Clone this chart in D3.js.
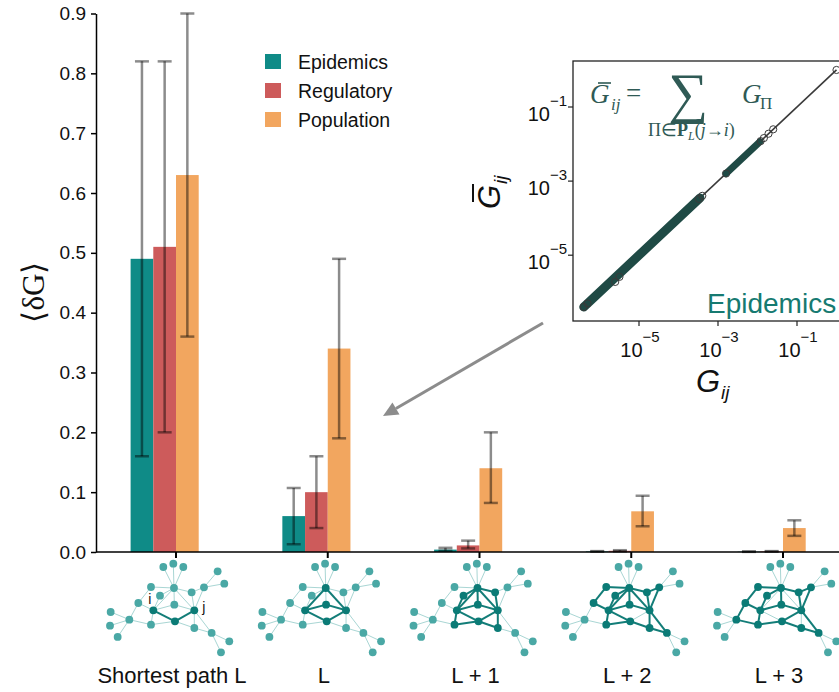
<!DOCTYPE html>
<html>
<head>
<meta charset="utf-8">
<script src="https://cdn.jsdelivr.net/npm/d3@7"></script>
<style>
  body { margin: 0; background: #fff; }
</style>
</head>
<body>
<div id="chart"></div>
<script>
// ---- data ----
const categories = ["Shortest path L", "L", "L + 1", "L + 2", "L + 3"];
const seriesNames = ["Epidemics", "Regulatory", "Population"];
const seriesColors = ["#0f8b87", "#cd5b5b", "#f2a65f"];

const epidemics  = [0.49, 0.06, 0.004, 0.001, 0.0005];
const epiLow     = [0.16, 0.013, 0.002, 0.0005, 0.0002];
const epiHigh    = [0.82, 0.107, 0.007, 0.0015, 0.001];
const regulatory = [0.51, 0.10, 0.011, 0.002, 0.001];
const regLow     = [0.20, 0.04, 0.006, 0.001, 0.0005];
const regHigh    = [0.82, 0.16, 0.019, 0.003, 0.0015];
const population = [0.63, 0.34, 0.14, 0.068, 0.040];
const popLow     = [0.36, 0.19, 0.082, 0.043, 0.027];
const popHigh    = [0.90, 0.49, 0.20, 0.094, 0.053];

const yTicks = [0, 0.1, 0.2, 0.3, 0.4, 0.5, 0.6, 0.7, 0.8, 0.9];

// inset scatter (G_ij vs summed path contributions)
const insetTicks = [1e-5, 1e-3, 1e-1];
const denseRuns = [[4e-7, 3.5e-4], [1.6e-3, 1.15e-2]];
const pointsG    = [4e-7, 5e-7, 2.5e-6, 3.2e-6, 3.3e-4, 4.0e-4, 1.6e-3, 1.2e-2, 1.45e-2, 1.9e-2, 2.5e-2, 1.0];
const pointsGbar = [4e-7, 5e-7, 1.9e-6, 2.6e-6, 3.3e-4, 4.0e-4, 1.6e-3, 1.2e-2, 1.45e-2, 1.9e-2, 2.5e-2, 1.0];

// small network sketches (layout units), same graph in every panel
const netNodes = [[160,12],[190,2],[220,12],[192,75],[123,72],[150,98],[245,88],[282,73],
  [323,25],[343,62],[130,142],[253,142],[193,125],[195,175],[85,120],[58,170],[2,147],
  [0,188],[23,222],[123,185],[253,195],[305,210],[358,235],[333,268]];
const netLinks = [[0,3],[1,3],[2,3],[7,8],[7,9],[15,16],[15,17],[15,18],[21,22],[21,23],
  [3,4],[3,6],[3,10],[3,11],[3,12],[4,14],[3,5],[5,10],[6,11],[6,7],[7,11],[10,12],
  [12,11],[10,13],[13,11],[10,14],[14,15],[15,19],[10,19],[19,13],[11,20],[20,13],
  [20,21],[11,21]];
const sourceNode = 10, targetNode = 11;
const shortestPath = [10, 13, 11];
const pathLengths = [2, 2, 3, 4, 5];

const width = 839, height = 692;
const sans = "'Liberation Sans', Arial, sans-serif";
const serif = "'Liberation Serif', 'Times New Roman', serif";

const svg = d3.select("#chart").append("svg")
    .attr("width", width).attr("height", height)
    .attr("font-family", sans);

// ---- scales ----
const xc = d3.scaleLinear().domain([0, 4]).range([176, 783]);
const barW = 22.7;
const xs = d3.scaleBand().domain(seriesNames).range([-2 * barW, barW]);
const y = d3.scaleLinear().domain([0, 0.9]).range([552, 13.5]);

// ---- bars ----
const values = [epidemics, regulatory, population];
const lows = [epiLow, regLow, popLow];
const highs = [epiHigh, regHigh, popHigh];

const barData = [];
seriesNames.forEach((s, si) => {
    categories.forEach((c, ci) => {
        barData.push({ s: s, si: si, ci: ci, v: values[si][ci], lo: lows[si][ci], hi: highs[si][ci] });
    });
});

svg.append("g").selectAll("rect")
    .data(barData)
    .enter().append("rect")
    .attr("x", d => xc(d.ci) + xs(d.s))
    .attr("y", d => y(d.v))
    .attr("width", xs.bandwidth())
    .attr("height", d => y(0) - y(d.v))
    .attr("fill", d => seriesColors[d.si]);

// error bars
const err = svg.append("g")
    .attr("stroke", "#000").attr("stroke-opacity", 0.45).attr("stroke-width", 2.5);
barData.forEach(d => {
    const cx = xc(d.ci) + xs(d.s) + xs.bandwidth() / 2;
    err.append("line").attr("x1", cx).attr("x2", cx).attr("y1", y(d.lo)).attr("y2", y(d.hi));
    err.append("line").attr("x1", cx - 7).attr("x2", cx + 7).attr("y1", y(d.lo)).attr("y2", y(d.lo));
    err.append("line").attr("x1", cx - 7).attr("x2", cx + 7).attr("y1", y(d.hi)).attr("y2", y(d.hi));
});

// ---- axes ----
const yAxis = svg.append("g")
    .attr("transform", "translate(96,0)")
    .call(d3.axisLeft(y).tickValues(yTicks).tickFormat(d3.format(".1f")).tickSize(5).tickSizeOuter(0));
yAxis.select(".domain").attr("stroke-width", 1.5);
yAxis.selectAll(".tick line").attr("stroke-width", 1.5);
yAxis.selectAll("text").attr("font-size", 19).attr("fill", "#111")
    .attr("font-family", sans).attr("dx", "-2");

svg.append("line").attr("x1", 96).attr("x2", width).attr("y1", y(0)).attr("y2", y(0))
    .attr("stroke", "#000").attr("stroke-width", 1.5);
svg.append("g").selectAll("line").data(categories).enter().append("line")
    .attr("x1", (d, i) => xc(i)).attr("x2", (d, i) => xc(i))
    .attr("y1", y(0)).attr("y2", y(0) + 6)
    .attr("stroke", "#000").attr("stroke-width", 2);

// y label <δG>
svg.append("text")
    .attr("transform", "translate(44,292) rotate(-90)")
    .attr("text-anchor", "middle")
    .attr("font-family", serif)
    .attr("font-size", 31)
    .attr("fill", "#111")
    .text("\u27E8\u03B4G\u27E9");

// ---- legend ----
const legend = svg.append("g").attr("transform", "translate(265,54)");
seriesNames.forEach((s, i) => {
    legend.append("rect").attr("x", 0).attr("y", i * 29).attr("width", 16).attr("height", 15)
        .attr("fill", seriesColors[i]);
    legend.append("text").attr("x", 33).attr("y", i * 29 + 14.5)
        .attr("font-size", 19.5).attr("fill", "#111").text(s);
});

// ---- category labels ----
svg.append("g").selectAll("text").data(categories).enter().append("text")
    .attr("x", (d, i) => xc(i) - 4).attr("y", 683)
    .attr("text-anchor", "middle").attr("font-size", 22).attr("fill", "#111")
    .text(d => d);

// ---- network sketches ----
const adj = netNodes.map(() => []);
netLinks.forEach(([a, b]) => { adj[a].push(b); adj[b].push(a); });
const key = (a, b) => a < b ? a + "-" + b : b + "-" + a;

function pathEdges(k) {
    const edges = new Set(), nodes = new Set();
    const path = [sourceNode];
    function dfs(n, depth) {
        if (depth === k) {
            if (n === targetNode) {
                for (let t = 0; t < path.length - 1; t++) edges.add(key(path[t], path[t + 1]));
                path.forEach(p => nodes.add(p));
            }
            return;
        }
        adj[n].forEach(m => {
            if (path.includes(m)) return;
            if (m === targetNode && depth + 1 !== k) return;
            path.push(m); dfs(m, depth + 1); path.pop();
        });
    }
    dfs(sourceNode, 0);
    return { edges, nodes };
}

const nx = d3.scaleLinear().domain([0, 358]).range([-60, 59.3]);
const ny = d3.scaleLinear().domain([0, 268]).range([563, 652.3]);

categories.forEach((c, ci) => {
    let hl;
    if (ci === 0) {
        hl = { edges: new Set(), nodes: new Set(shortestPath) };
        for (let t = 0; t < shortestPath.length - 1; t++) hl.edges.add(key(shortestPath[t], shortestPath[t + 1]));
    } else {
        hl = pathEdges(pathLengths[ci]);
    }
    const g = svg.append("g").attr("transform", `translate(${xc(ci) - 6},0)`);
    const light = netLinks.filter(([a, b]) => !hl.edges.has(key(a, b)));
    const dark = netLinks.filter(([a, b]) => hl.edges.has(key(a, b)));
    g.selectAll(".lk").data(light).enter().append("line")
        .attr("x1", d => nx(netNodes[d[0]][0])).attr("y1", d => ny(netNodes[d[0]][1]))
        .attr("x2", d => nx(netNodes[d[1]][0])).attr("y2", d => ny(netNodes[d[1]][1]))
        .attr("stroke", "#a9d6d4").attr("stroke-width", 1);
    g.selectAll(".dk").data(dark).enter().append("line")
        .attr("x1", d => nx(netNodes[d[0]][0])).attr("y1", d => ny(netNodes[d[0]][1]))
        .attr("x2", d => nx(netNodes[d[1]][0])).attr("y2", d => ny(netNodes[d[1]][1]))
        .attr("stroke", "#137d78").attr("stroke-width", 2);
    g.selectAll("circle").data(netNodes).enter().append("circle")
        .attr("cx", d => nx(d[0])).attr("cy", d => ny(d[1])).attr("r", 3.9)
        .attr("fill", (d, i) => hl.nodes.has(i) ? "#0b7b76" : "#4aa8a5");
    if (ci === 0) {
        g.append("text").attr("x", nx(netNodes[sourceNode][0]) - 5).attr("y", ny(netNodes[sourceNode][1]) - 6)
            .attr("font-size", 14).attr("fill", "#111").text("i");
        g.append("text").attr("x", nx(netNodes[targetNode][0]) + 8).attr("y", ny(netNodes[targetNode][1]) + 2)
            .attr("font-size", 14).attr("fill", "#111").text("j");
    }
});

// ---- arrow ----
const a0 = [543, 323], a1 = [383, 416];
const ang = Math.atan2(a1[1] - a0[1], a1[0] - a0[0]);
const headL = 15, headW = 7;
const base = [a1[0] - headL * Math.cos(ang), a1[1] - headL * Math.sin(ang)];
svg.append("line").attr("x1", a0[0]).attr("y1", a0[1]).attr("x2", base[0]).attr("y2", base[1])
    .attr("stroke", "#8c8c8c").attr("stroke-width", 3);
svg.append("path")
    .attr("d", `M${a1[0]},${a1[1]}L${base[0] + headW * Math.sin(ang)},${base[1] - headW * Math.cos(ang)}L${base[0] - headW * Math.sin(ang)},${base[1] + headW * Math.cos(ang)}Z`)
    .attr("fill", "#8c8c8c");

// ---- inset ----
const ix = d3.scaleLog().domain([1e-7, 1e1]).range([560, 876]);
const iy = d3.scaleLog().domain([1e-7, 1e1]).range([329.3, 32.9]);
const box = { x: 573, y: 61, w: 300, h: 260 };

svg.append("defs").append("clipPath").attr("id", "insetClip")
    .append("rect").attr("x", box.x).attr("y", box.y).attr("width", box.w).attr("height", box.h);

svg.append("rect").attr("x", box.x).attr("y", box.y).attr("width", box.w).attr("height", box.h)
    .attr("fill", "#fff");

const plot = svg.append("g").attr("clip-path", "url(#insetClip)");
plot.append("line")
    .attr("x1", ix(pointsG[0])).attr("y1", iy(pointsGbar[0]))
    .attr("x2", ix(pointsG[pointsG.length - 1])).attr("y2", iy(pointsGbar[pointsGbar.length - 1]))
    .attr("stroke", "#3a3a3a").attr("stroke-width", 1.6);
plot.selectAll(".run").data(denseRuns).enter().append("line")
    .attr("x1", d => ix(d[0])).attr("y1", d => iy(d[0]))
    .attr("x2", d => ix(d[1])).attr("y2", d => iy(d[1]))
    .attr("stroke", "#1f4a45").attr("stroke-width", (d, i) => i === 0 ? 9 : 7)
    .attr("stroke-linecap", "round");
plot.selectAll(".pt").data(pointsG).enter().append("circle")
    .attr("cx", d => ix(d)).attr("cy", (d, i) => iy(pointsGbar[i])).attr("r", 3.6)
    .attr("fill", "none").attr("stroke", "#3a3a3a").attr("stroke-width", 1);

plot.append("text").attr("x", 707).attr("y", 313)
    .attr("font-size", 28).attr("fill", "#167a71").text("Epidemics");

svg.append("rect").attr("x", box.x).attr("y", box.y).attr("width", box.w).attr("height", box.h)
    .attr("fill", "none").attr("stroke", "#222").attr("stroke-width", 1.3);

// inset ticks
insetTicks.forEach(t => {
    svg.append("line").attr("x1", ix(t)).attr("x2", ix(t)).attr("y1", box.y + box.h).attr("y2", box.y + box.h + 5)
        .attr("stroke", "#222").attr("stroke-width", 1.2);
    svg.append("line").attr("x1", box.x - 5).attr("x2", box.x).attr("y1", iy(t)).attr("y2", iy(t))
        .attr("stroke", "#222").attr("stroke-width", 1.2);
    const e = Math.round(Math.log10(t));
    const tx = svg.append("text").attr("x", ix(t) + 1).attr("y", box.y + box.h + 36)
        .attr("text-anchor", "middle").attr("font-size", 20).attr("fill", "#111");
    tx.append("tspan").text("10");
    tx.append("tspan").attr("dy", -15).attr("font-size", 15).text("\u2212" + Math.abs(e));
    const ty = svg.append("text").attr("x", box.x - 6).attr("y", iy(t) + 13.5)
        .attr("text-anchor", "end").attr("font-size", 20).attr("fill", "#111");
    ty.append("tspan").text("10");
    ty.append("tspan").attr("dy", -15).attr("font-size", 15).text("\u2212" + Math.abs(e));
});

// inset axis labels
const xl = svg.append("g").attr("transform", "translate(696,392)");
xl.append("text").attr("font-size", 31).attr("font-style", "italic").attr("fill", "#111").text("G");
xl.append("text").attr("x", 25).attr("y", 7).attr("font-size", 19).attr("font-style", "italic").attr("fill", "#111").text("ij");

const yl = svg.append("g").attr("transform", "translate(500,209) rotate(-90)");
yl.append("text").attr("x", 0).attr("font-size", 31).attr("font-style", "italic").attr("fill", "#111").text("G");
yl.append("text").attr("x", 25).attr("y", 7).attr("font-size", 19).attr("font-style", "italic").attr("fill", "#111").text("ij");
yl.append("line").attr("x1", 7).attr("x2", 25).attr("y1", -27).attr("y2", -27)
    .attr("stroke", "#111").attr("stroke-width", 2);

// equation
const eqColor = "#2f5a55";
const eq = svg.append("g").attr("fill", eqColor).attr("font-family", serif);
eq.append("text").attr("x", 590).attr("y", 103).attr("font-size", 27).attr("font-style", "italic").text("G");
eq.append("line").attr("x1", 598).attr("x2", 611).attr("y1", 83).attr("y2", 83).attr("stroke", eqColor).attr("stroke-width", 1.6);
eq.append("text").attr("x", 611).attr("y", 110).attr("font-size", 17).attr("font-style", "italic").text("ij");
eq.append("text").attr("x", 626).attr("y", 102).attr("font-size", 27).text("=");
eq.append("text").attr("x", 688).attr("y", 112).attr("text-anchor", "middle").attr("font-size", 56).text("\u2211");
const sub = eq.append("text").attr("x", 648).attr("y", 136).attr("font-size", 18);
sub.append("tspan").text("\u03A0\u2208");
sub.append("tspan").attr("font-weight", "bold").text("P");
sub.append("tspan").attr("dy", 4).attr("font-size", 12).attr("font-style", "italic").text("L");
sub.append("tspan").attr("dy", -4).text("(");
sub.append("tspan").attr("font-style", "italic").text("j");
sub.append("tspan").text("\u2192");
sub.append("tspan").attr("font-style", "italic").text("i");
sub.append("tspan").text(")");
eq.append("text").attr("x", 742).attr("y", 103).attr("font-size", 27).attr("font-style", "italic").text("G");
eq.append("text").attr("x", 760).attr("y", 109).attr("font-size", 17).text("\u03A0");
</script>
</body>
</html>
